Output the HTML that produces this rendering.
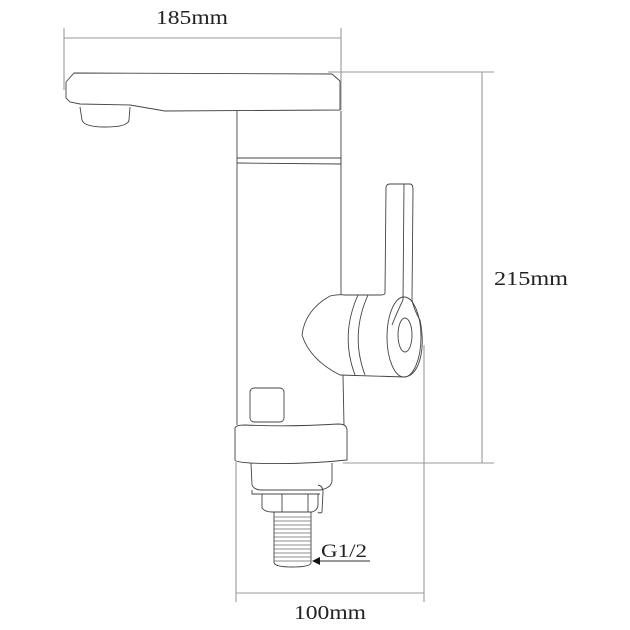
<!DOCTYPE html>
<html><head><style>
html,body{margin:0;padding:0;background:#fff;}
svg{display:block}
text{font-family:"Liberation Serif",serif;fill:#222;}
</style></head><body>
<svg width="630" height="630" viewBox="0 0 630 630" xmlns="http://www.w3.org/2000/svg">
<g stroke="#999" stroke-width="1.1" fill="none">
  <line x1="64" y1="38" x2="341" y2="38"/>
  <line x1="64" y1="28" x2="64" y2="90"/>
  <line x1="341" y1="28" x2="341" y2="110"/>
  <line x1="328" y1="72" x2="494" y2="72"/>
  <line x1="343" y1="463" x2="494" y2="463"/>
  <line x1="482" y1="72" x2="482" y2="463"/>
  <line x1="236" y1="593" x2="424" y2="593"/>
  <line x1="236" y1="462" x2="236" y2="602"/>
  <line x1="424" y1="345" x2="424" y2="602"/>
</g>
<text x="156" y="24" font-size="20" textLength="72" lengthAdjust="spacingAndGlyphs">185mm</text>
<text x="494" y="285" font-size="20" textLength="74" lengthAdjust="spacingAndGlyphs">215mm</text>
<text x="294" y="619" font-size="20" textLength="72" lengthAdjust="spacingAndGlyphs">100mm</text>
<text x="321" y="557" font-size="19" textLength="46" lengthAdjust="spacingAndGlyphs">G1/2</text>
<g stroke="#444" stroke-width="0.9" fill="none">
  <path d="M66,86 L66,82 L74,73 L332,74 L340,81 L340,110 L165,111 L130,105 L80,104 L70,102 L66,98 Z"/>
  <path d="M80,107 L82,120 Q84,127 105,127 Q128,127 129,120 L130,107"/>
  <line x1="237" y1="111" x2="237" y2="425"/>
  <line x1="341" y1="111" x2="341" y2="295"/>
  <line x1="343" y1="375" x2="344" y2="425"/>
  <path d="M237,158 L341,158 L341,164 L237,163"/>
  <rect x="250" y="388" width="34" height="34" rx="4"/>
  <path d="M385,293 L386,188 Q386,184 390,184 L410,184 Q413,184 413,190 L412,300 Q414,310 420,320 Q424,340 421,355 Q417,375 405,377 L340,375 Q310,360 302,335 Q305,310 330,296 Q338,294 345,295 L380,295 Q385,295 385,293 Z"/>
  <path d="M404,184 L403,300 Q398,310 392,325"/>
  <ellipse cx="404" cy="337" rx="17" ry="40"/>
  <ellipse cx="405" cy="335" rx="7" ry="17"/>
  <path d="M358,295 Q340,335 355,375"/>
  <path d="M368,295 Q350,335 365,375"/>
  <path d="M235,428 Q236,425 245,425 Q290,427 338,424 Q347,424 347,430 L347,460 Q300,465 250,463 Q235,462 235,460 Z"/>
  <path d="M251,463 L252,485 Q254,490 262,490 L320,490 Q332,488 332,480 L332,463"/>
  <path d="M252,490 L252,494 L320,494"/>
  <path d="M262,494 L262,508 Q265,512 272,512 L312,512 Q318,510 318,505 L318,494"/>
  <line x1="282" y1="494" x2="282" y2="512"/>
  <line x1="308" y1="494" x2="308" y2="512"/>
  <path d="M318,485 Q323,486 323,492 L322,512 Q320,514 318,512"/>
  <path d="M274,512 L274,563 Q276,567 292,567 Q310,567 311,563 L311,512"/>
</g>
<g stroke="#666" stroke-width="0.7">
  <line x1="274" y1="517" x2="311" y2="517"/>
  <line x1="274" y1="521" x2="311" y2="521"/>
  <line x1="274" y1="525" x2="311" y2="525"/>
  <line x1="274" y1="529" x2="311" y2="529"/>
  <line x1="274" y1="533" x2="311" y2="533"/>
  <line x1="274" y1="537" x2="311" y2="537"/>
  <line x1="274" y1="541" x2="311" y2="541"/>
  <line x1="274" y1="545" x2="311" y2="545"/>
  <line x1="274" y1="549" x2="311" y2="549"/>
  <line x1="274" y1="553" x2="311" y2="553"/>
  <line x1="274" y1="557" x2="311" y2="557"/>
  <line x1="274" y1="561" x2="311" y2="561"/>
</g>
<line x1="318" y1="561" x2="370" y2="561" stroke="#333" stroke-width="1"/>
<polygon points="312,561 320,557 320,565" fill="#111"/>
</svg>
</body></html>
